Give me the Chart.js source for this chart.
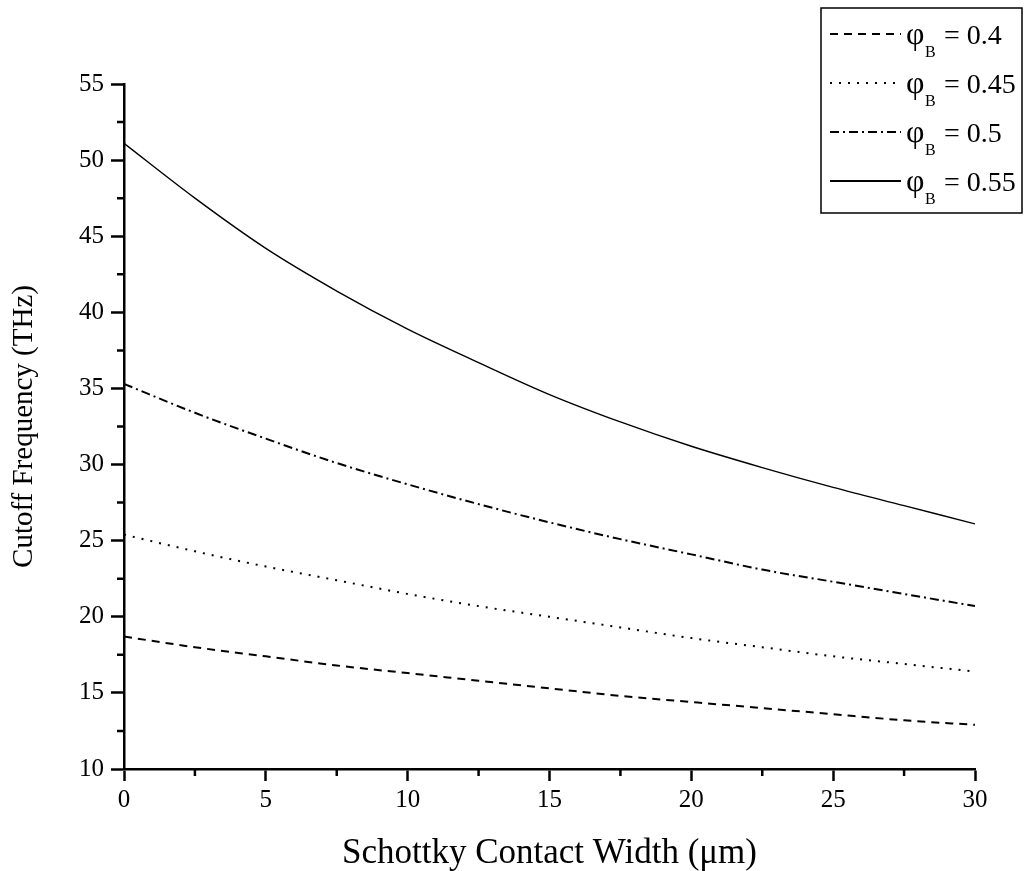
<!DOCTYPE html>
<html>
<head>
<meta charset="utf-8">
<script src="https://cdn.jsdelivr.net/npm/chart.js@4.4.1/dist/chart.umd.min.js"></script>
<style>
body { margin: 0; background: #fff; }
</style>
</head>
<body>
<canvas id="myChart" width="1027" height="871"></canvas>
<script>
// contact width in um
const widths = [0, 2.5, 5, 7.5, 10, 12.5, 15, 17.5, 20, 22.5, 25, 27.5, 30];
// cutoff frequency in THz, one array per barrier height
const phi040 = [18.7, 18.0, 17.4, 16.8, 16.3, 15.8, 15.3, 14.8, 14.4, 14.0, 13.6, 13.2, 12.9];
const phi045 = [25.4, 24.3, 23.3, 22.4, 21.5, 20.7, 20.0, 19.3, 18.6, 18.0, 17.4, 16.9, 16.4];
const phi050 = [35.3, 33.4, 31.7, 30.1, 28.7, 27.4, 26.2, 25.1, 24.1, 23.1, 22.3, 21.5, 20.7];
const phi055 = [51.1, 47.5, 44.2, 41.4, 38.9, 36.7, 34.6, 32.8, 31.2, 29.8, 28.5, 27.3, 26.1];
const legendLabels = ["0.4", "0.45", "0.5", "0.55"];
const xTicks = [0, 5, 10, 15, 20, 25, 30];
const yTicks = [10, 15, 20, 25, 30, 35, 40, 45, 50, 55];

const serif = "'Liberation Serif', 'DejaVu Serif', serif";

function pts(vals) {
  return widths.map(function (w, i) { return { x: w, y: vals[i] }; });
}

var dashes = [[8, 6], [2, 7], [9, 4, 2, 4], []];
var series = [phi040, phi045, phi050, phi055];
var datasets = series.map(function (s, i) {
  return {
    label: "\u03C6B = " + legendLabels[i],
    data: pts(s),
    borderColor: "#000",
    borderWidth: i == 3 ? 1.4 : 2,
    borderDash: dashes[i],
    pointRadius: 0,
    fill: false,
    cubicInterpolationMode: "monotone"
  };
});

// minor ticks and the boxed legend
var extras = {
  id: "extras",
  afterDraw: function (chart) {
    var ctx = chart.ctx;
    var xs = chart.scales.x;
    var ys = chart.scales.y;
    var area = chart.chartArea;
    ctx.save();
    ctx.strokeStyle = "#000";
    ctx.lineWidth = 2.5;
    ctx.beginPath();
    for (var v = 2.5; v < 30; v += 5) {
      var px = xs.getPixelForValue(v);
      ctx.moveTo(px, area.bottom);
      ctx.lineTo(px, area.bottom + 7);
    }
    for (var w = 12.5; w < 55; w += 5) {
      var py = ys.getPixelForValue(w);
      ctx.moveTo(area.left, py);
      ctx.lineTo(area.left - 7, py);
    }
    ctx.stroke();

    // legend box
    ctx.lineWidth = 1.5;
    ctx.setLineDash([]);
    ctx.strokeRect(821, 8, 201, 205);
    var rowY = [34, 83, 132, 181];
    for (var i = 0; i < 4; i++) {
      var y = rowY[i];
      ctx.lineWidth = 1.8;
      ctx.setLineDash(dashes[i]);
      ctx.beginPath();
      ctx.moveTo(830, y);
      ctx.lineTo(901, y);
      ctx.stroke();
      ctx.setLineDash([]);
      ctx.fillStyle = "#000";
      ctx.textBaseline = "alphabetic";
      ctx.textAlign = "left";
      ctx.font = "32px " + serif;
      ctx.fillText("\u03C6", 906, y + 10);
      ctx.font = "16px " + serif;
      ctx.fillText("B", 925, y + 23);
      ctx.font = "28px " + serif;
      ctx.fillText("= " + legendLabels[i], 944, y + 10);
    }
    ctx.restore();
  }
};

var ctx = document.getElementById("myChart");
var myChart = new Chart(ctx, {
  type: "line",
  data: { datasets: datasets },
  options: {
    responsive: false,
    animation: false,
    layout: { padding: { top: 84, right: 52, left: 0, bottom: 0 } },
    plugins: { legend: { display: false }, tooltip: { enabled: false } },
    scales: {
      x: {
        type: "linear",
        min: 0,
        max: 30,
        afterFit: function (s) { s.height = 102; },
        afterBuildTicks: function (s) { s.ticks = xTicks.map(function (v) { return { value: v }; }); },
        border: { display: true, color: "#000", width: 2.5 },
        grid: { drawOnChartArea: false, drawTicks: true, tickLength: 12, tickWidth: 2.5, tickColor: "#000" },
        ticks: { color: "#000", font: { family: serif, size: 25 }, padding: 4, maxRotation: 0 },
        title: {
          display: true,
          text: "Schottky Contact Width (\u03BCm)",
          color: "#000",
          font: { family: serif, size: 35, lineHeight: 1.0 },
          padding: { top: 0, bottom: 0 }
        }
      },
      y: {
        type: "linear",
        min: 10,
        max: 55,
        afterFit: function (s) { s.width = 124; },
        afterBuildTicks: function (s) { s.ticks = yTicks.map(function (v) { return { value: v }; }); },
        border: { display: true, color: "#000", width: 2.5 },
        grid: { drawOnChartArea: false, drawTicks: true, tickLength: 13, tickWidth: 2.5, tickColor: "#000" },
        ticks: { color: "#000", font: { family: serif, size: 25 }, padding: 7 },
        title: {
          display: true,
          text: "Cutoff Frequency (THz)",
          color: "#000",
          font: { family: serif, size: 29, lineHeight: 1.0 },
          padding: { top: 10, bottom: 0 }
        }
      }
    }
  },
  plugins: [extras]
});
</script>
</body>
</html>
